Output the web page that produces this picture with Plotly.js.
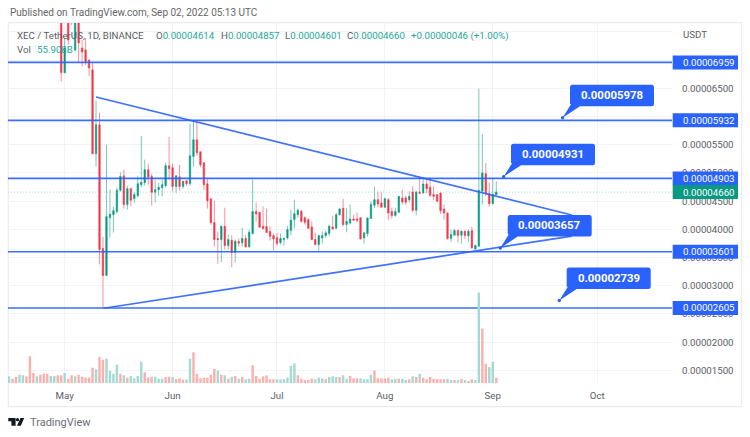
<!DOCTYPE html>
<html><head><meta charset="utf-8">
<script src="https://cdn.plot.ly/plotly-3.0.1.min.js"></script>
<style>html,body{margin:0;padding:0;background:#fff}#c{width:750px;height:437px}</style></head>
<body><div id="c"></div>
<script>
// Prices are in millionths of USDT, daily from 2022-04-30 to 2022-09-02
const opens=[78,67.74,78,79.8,71.81,78,72.16,71.81,70.04,68.27,53.4,58.53,36.59,31.81,42.07,42.6,43.14,46.91,49.51,44.38,47.21,45.44,45.97,47.92,48.27,50.57,49.38,46.55,47.03,47.38,47.74,51.28,
50.93,47.61,49.33,47.61,48.62,48.09,52.92,55.88,53.76,51.81,48.09,45.44,41.19,38.36,38.18,40.53,37.12,38.06,35.88,37.83,37.6,38.36,36.89,39.24,43.14,43.01,40.53,40.48,39.6,38.89,
38.53,37.65,38.18,38.48,39.83,41.72,42.6,43.19,42.07,41.72,40.43,38.18,37.3,38.48,38.89,39.24,40.43,40.18,42.6,43.72,40.84,41.14,41.84,41.84,42.07,38.48,39.24,41.9,44.25,45.26,44.68,
43.9,45.26,43.14,42.43,43.01,45.56,45.56,45.26,46.62,43.37,46.62,46.45,48.04,47.44,46.15,46.15,46.45,43.61,42.91,38.36,38.94,39.77,38.94,39.65,38.84,39.77,36.53,37,46.73,49.86,46.32,44.55,46.14];
const highs=[79.8,73.93,79.24,80.66,79.8,78.9,73.58,73.93,70.04,69.51,62.84,60.66,38.71,55,47.03,44.02,47.38,50.09,50.57,47.74,47.38,46.55,49.51,56.59,52.34,51.63,49.86,48.8,48.27,48.8,51.81,56.36,
51.63,49.56,51.45,48.62,48.8,58.71,59.42,59.07,53.76,51.81,48.98,45.44,45.08,39.6,40.66,43.84,39.06,38.94,38.18,38.36,40.3,38.94,39.95,48.8,44.73,43.14,44.07,43.67,40.53,39.24,
39.37,39.24,38.53,40.66,43.49,45.26,43.67,43.49,42.3,41.9,41.42,39.42,38.94,39.65,39.77,40.84,42.43,42.91,43.84,45.38,43.79,44.38,42.6,42.96,42.07,39.42,42.07,44.96,47.61,46.68,46.55,
45.61,45.56,43.84,43.84,45.84,47.03,45.97,46.73,47.61,46.85,49.38,49.33,49.1,48.98,47.61,46.15,46.5,44.38,42.96,39.95,40.07,39.95,39.83,39.83,39.95,40.43,37.3,64.91,56.89,51.75,48.27,48.98,48.57];
const lows=[66.2,67.74,72.7,76.2,71.46,69.51,68.85,69.15,67.21,53.4,51.15,33.75,25.9,31.81,38.53,39.42,42.78,46.68,43.67,43.49,44.07,44.73,45.67,47.44,47.74,47.92,44.2,44.78,45.97,45.84,47.38,48.8,
46.73,46.5,46.85,47.21,47.74,47.74,51.1,53.05,51.05,47.03,43.67,40.84,36.94,33.93,34.16,36.41,36.41,33.28,34.11,36.94,36.94,36.76,36.76,39.06,41.37,40.3,39.95,39.42,38,36.23,
37.12,37.3,37.12,38.18,38.94,40.13,42.07,41.19,40.84,40.07,38.06,37.12,36.18,37.47,38.48,38.76,39.95,40.07,42.43,40.53,39.47,40.84,41.54,41.24,38.18,37.47,38.76,41.9,43.79,43.84,43.9,
43.84,41.6,41.9,42.25,42.91,44.38,44.25,44.78,42.96,42.48,46.27,46.32,46.38,45.67,45.26,44.85,42.73,41.72,38.18,37.77,38.94,37.6,37.47,38.23,37.7,36.53,36.29,36.94,44.38,45.84,43.97,44.55,46.01];
const closes=[67.79,72.16,73.58,77.47,78,73.05,71.46,69.74,68.62,53.4,58.53,36.41,31.81,42.25,42.66,43.31,46.91,49.38,44.38,47.21,45.14,46.15,48.09,48.32,50.57,49.28,46.55,47.03,47.44,47.92,51.28,50.75,
47.61,49.51,47.61,48.5,48.09,53.05,55.88,53.58,51.45,47.92,45.08,41.19,38.18,38.18,40.53,37.12,38.18,35.88,37.88,37.53,38.36,36.89,39.47,43.14,42.73,40.36,40.13,39.42,38.76,38.3,
37.47,38.36,38.36,39.95,41.6,42.78,43.37,41.42,41.24,40.18,38.18,37.3,38.89,38.89,39.37,40.53,40.07,42.6,43.61,40.84,41.42,41.84,41.6,41.6,38.3,39.37,42.02,44.38,45.26,44.5,43.9,
45.44,42.91,42.43,43.14,45.84,44.85,44.78,45.84,43.37,46.62,46.38,48.04,47.21,46.02,45.84,44.96,43.31,42.91,38.36,39.06,39.77,38.94,39.65,38.89,39.65,36.71,37.12,46.91,49.99,46.32,44.55,46.15,46.6];
// Volume, daily from 2022-04-15 to 2022-09-02 (relative units), and its direction
const volumes=[6.7,4,6.3,8.3,7.7,6.7,26.7,10,6.7,8.3,9.3,9.3,7,7,7.7,7.7,10,4.3,7.7,6.7,8.3,6.3,5.3,5.3,15.3,13.7,26,23.3,24.3,12.3,9.3,18.3,9.3,7.7,5.3,7,4.7,7,21.3,10.7,5.3,6.3,6.3,4.3,4.3,6,6.3,6,4,4.7,3.3,3.3,24.3,30.7,9.3,4.7,5.3,5.3,8.3,14,12.3,8.3,7.7,4.3,6.3,7,4.3,6,3.7,4.3,17.7,
7,4.3,6.7,7.7,3.7,3.7,3.7,3.7,3.7,5.3,17.3,19.7,7.7,4.3,3,3,4.3,3.7,5.3,4.7,3.7,6,6.7,6,6,7.7,4.3,7,4.7,4.7,4.7,3.7,3.7,8.3,12.3,4.7,4.7,4.7,5.3,3.7,4,4.3,4,3,3.7,6.7,6,9.3,5.3,3.7,6,4.3,4,3.7,3.7,4.3,3,3,3,4,3,2,3.7,3,90.5,54.5,19.3,16,21.3,5.3];
const volumeDirs="grrggrrrgrrrggrrgrrgrrrrrgrrggggrgrggggrrrgggrrgrrrggrrrrrrrgrgrgrgrgg"+"rrrrrrrggggggrrrrrgggrgggrggrrrggggrrrrrggrggrgrgrrrrrrrggrgrgrrggrrgg";
const levels=[69.59,59.32,49.03,36.01,26.05];
const levelLabels=["0.00006959","0.00005932","0.00004903","0.00003601","0.00002605"];
const lastPrice=46.6, lastLabel="0.00004660";
const upperTrendX=["2022-05-10","2022-09-23 17:00"], upperTrendY=[63.46,42.54];
const lowerTrendX=["2022-05-12 06:00","2022-09-23 17:00"], lowerTrendY=[26.0,38.8];
const priceTicks=[15,20,25,30,35,40,45,50,55,60,65,70,75];
const priceTickText=["0.00001500","0.00002000","0.00002500","0.00003000","0.00003500","0.00004000","0.00004500","0.00005000","0.00005500","","0.00006500","",""];
const calloutTexts=["0.00005978","0.00004931","0.00003657","0.00002739"];

const U=1e-6, DAY=864e5;
const fmt=t=>new Date(t).toISOString().slice(0,10);
const candleDates=opens.map((_,i)=>fmt(Date.UTC(2022,3,30)+i*DAY));
const volDates=volumes.map((_,i)=>fmt(Date.UTC(2022,3,15)+i*DAY));
const BLUE='#2962ff',GREEN='#089981',RED='#f23645',FONT='Roboto, sans-serif',GREY='#5a5d66',TXT=9.7;
const L=8,R=672,T=23,B=383;
const xr=["2022-04-14 17:00","2022-10-22 12:00"];
const px=x=>(x-L)/(R-L), py=y=>(B-y)/(B-T);
const sc=a=>a.map(v=>v*U);

const traces=[
 {type:'bar',x:volDates,y:volumes,yaxis:'y2',marker:{color:volumes.map((_,i)=>volumeDirs[i]==='g'?'#a3dad1':'#fbb0ae'),line:{width:0}},hoverinfo:'skip',showlegend:false},
 {type:'scatter',mode:'lines',x:xr,y:[lastPrice*U,lastPrice*U],line:{color:'#5bbfa9',width:0.7,dash:'1px,2px'},opacity:.8,hoverinfo:'skip',showlegend:false},
 {type:'candlestick',x:candleDates,open:sc(opens),high:sc(highs),low:sc(lows),close:sc(closes),whiskerwidth:0,
  increasing:{line:{color:'rgba(8,153,129,0.55)',width:1},fillcolor:GREEN},
  decreasing:{line:{color:'rgba(242,54,69,0.55)',width:1},fillcolor:'#f7334a'},hoverinfo:'skip',showlegend:false},
 {type:'scatter',mode:'lines',x:upperTrendX,y:sc(upperTrendY),line:{color:BLUE,width:1.7},opacity:.9,hoverinfo:'skip',showlegend:false},
 {type:'scatter',mode:'lines',x:lowerTrendX,y:sc(lowerTrendY),line:{color:BLUE,width:1.7},opacity:.9,hoverinfo:'skip',showlegend:false}
];
levels.forEach((v,i)=>traces.push({type:'scatter',mode:'lines',x:xr,y:[v*U,v*U],line:{color:BLUE,width:i<2?1.9:1.6},opacity:.92,hoverinfo:'skip',showlegend:false}));

const shapes=[
 {type:'rect',xref:'paper',yref:'paper',x0:px(8.3),x1:px(741.7),y0:py(406.7),y1:py(22.7),line:{color:'#e9ecf4',width:1.2},layer:'below'},
];
const ann=[];
const text=(x,y,t,o={})=>ann.push(Object.assign({xref:'paper',yref:'paper',x:px(x),y:py(y),text:t,showarrow:false,xanchor:'left',yanchor:'middle',font:{family:FONT,size:TXT,color:GREY}},o));
// price tags on the axis
const tag=(v,label,col)=>{
 shapes.push({type:'rect',xref:'paper',yref:'y',ysizemode:'pixel',yanchor:v*U,x0:px(672.7),x1:px(738),y0:-7,y1:7,fillcolor:col,line:{width:0},layer:'above'});
 ann.push({xref:'paper',yref:'y',x:px(681),y:v*U,text:label,showarrow:false,xanchor:'left',yanchor:'middle',font:{family:FONT,size:TXT,color:'#fff'}});
};
levels.forEach((v,i)=>tag(v,levelLabels[i],BLUE));
tag(lastPrice,lastLabel,GREEN);
// callouts
const box=(x0,y0,label)=>{
 const w=84,h=21.5,r=2.5,x1=x0+w,y1=y0+h,tx=x0-7.4,ty=y1+11.6;
 const P=(x,y)=>px(x)+','+py(y);
 const d='M'+P(x0+r,y0)+'L'+P(x1-r,y0)+'Q'+P(x1,y0)+' '+P(x1,y0+r)+'L'+P(x1,y1-r)+'Q'+P(x1,y1)+' '+P(x1-r,y1)+'L'+P(x0+10,y1)+'L'+P(tx,ty)+'L'+P(x0+1,y1-2)+'L'+P(x0,y1-r)+'L'+P(x0,y0+r)+'Q'+P(x0,y0)+' '+P(x0+r,y0)+'Z';
 shapes.push({type:'path',xref:'paper',yref:'paper',path:d,fillcolor:BLUE,line:{width:0},layer:'above'});
 shapes.push({type:'circle',xref:'paper',yref:'paper',x0:px(tx-1.7),x1:px(tx+1.7),y0:py(ty+1.7),y1:py(ty-1.7),fillcolor:BLUE,line:{width:0},layer:'above'});
 text(x0+w/2,y0+h/2-0.3,label,{xanchor:'center',font:{family:FONT,size:11.4,color:'#fff',weight:700}});
};
box(570,84.7,calloutTexts[0]);
box(511,143.7,calloutTexts[1]);
box(507.7,215,calloutTexts[2]);
box(566.7,267.4,calloutTexts[3]);
// logo
const P=(x,y)=>px(x)+','+py(y);
shapes.push({type:'path',xref:'paper',yref:'paper',fillcolor:'#131722',line:{width:0},path:'M'+P(8.3,418)+'L'+P(15.6,418)+'L'+P(15.6,425.8)+'L'+P(11.4,425.8)+'L'+P(11.4,421.2)+'L'+P(8.3,421.2)+'Z'});
shapes.push({type:'path',xref:'paper',yref:'paper',fillcolor:'#131722',line:{width:0},path:'M'+P(20.5,418)+'L'+P(24.2,418)+'L'+P(20.8,425.8)+'L'+P(17,425.8)+'Z'});
shapes.push({type:'circle',xref:'paper',yref:'paper',fillcolor:'#131722',line:{width:0},x0:px(15.9),x1:px(19.1),y0:py(421.3),y1:py(418.1)});
// texts
const GR='#26a69a';
text(8,12.7,'Published on TradingView.com, Sep 02, 2022 05:13 UTC',{font:{family:FONT,size:10,color:'#666'}});
text(15.3,35.7,'XEC / TetherUS, 1D, BINANCE');
text(154,35.7,'O<span style="color:'+GR+'">0.00004614</span>');
text(218.5,35.7,'H<span style="color:'+GR+'">0.00004857</span>');
text(282.7,35.7,'L<span style="color:'+GR+'">0.00004601</span>');
text(345,35.7,'C<span style="color:'+GR+'">0.00004660</span>');
text(409,35.7,'+0.00000046 (+1.00%)',{font:{family:FONT,size:TXT,color:GR}});
text(15.3,50,'Vol');
text(35,50,'55.908B',{font:{family:FONT,size:TXT,color:GR}});
text(681,34,'USDT');
text(28,422.5,'TradingView',{font:{family:FONT,size:11,color:'#6a6d78'}});

const layout={width:750,height:437,margin:{l:L,r:750-R,t:T,b:437-B,pad:0},paper_bgcolor:'#fff',plot_bgcolor:'#fff',
 showlegend:false,bargap:.3,boxgap:.38,boxmode:'overlay',
 font:{family:FONT,size:TXT,color:GREY},
 xaxis:{type:'date',range:xr,rangeslider:{visible:false},tick0:'2022-05-01',dtick:'M1',tickformat:'%b',showgrid:true,gridcolor:'#f1f3f8',gridwidth:1,zeroline:false,showline:false,ticks:'',ticklabelstandoff:5,tickfont:{family:FONT,size:TXT,color:GREY},fixedrange:true},
 yaxis:{side:'right',range:[12.75*U,76.58*U],tickmode:'array',tickvals:priceTicks.map(v=>v*U),ticktext:priceTickText,showgrid:true,gridcolor:'#f1f3f8',gridwidth:1,zeroline:false,showline:false,ticks:'',ticklabelstandoff:9,tickfont:{family:FONT,size:TXT,color:GREY},fixedrange:true},
 yaxis2:{overlaying:'y',domain:[0,1],range:[0,360],visible:false,fixedrange:true},
 shapes:shapes,annotations:ann};
Plotly.newPlot('c',traces,layout,{displayModeBar:false,staticPlot:true});
</script></body></html>
